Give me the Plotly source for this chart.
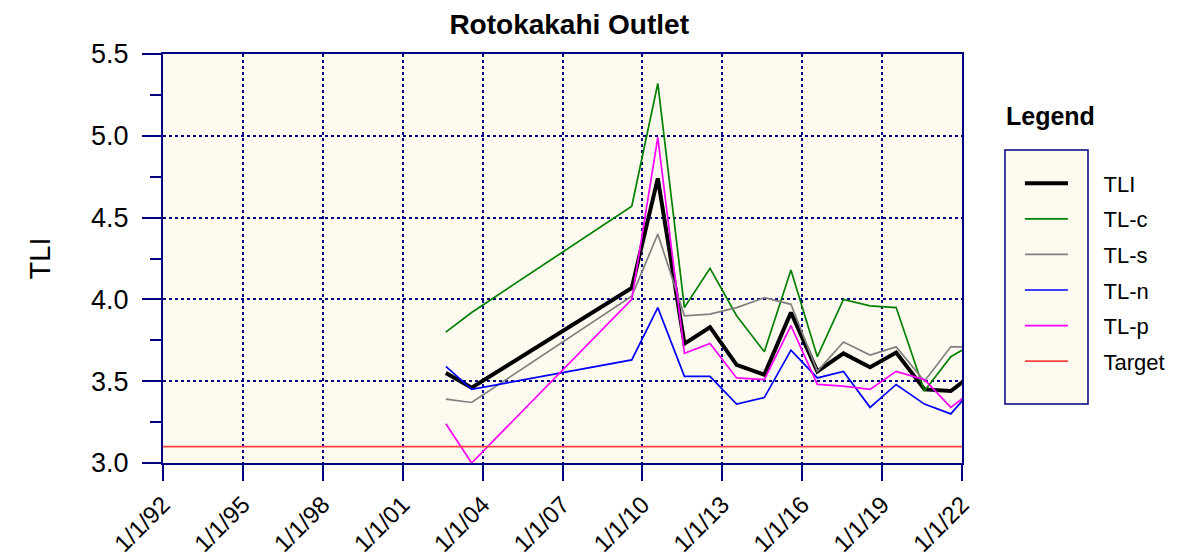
import plotly.graph_objects as go

# ---- data ----
dates = ["2002-08-15", "2003-08-04", "2009-08-08", "2010-07-31", "2011-07-31",
         "2012-07-16", "2013-07-16", "2014-07-31", "2015-07-31", "2016-07-27",
         "2017-07-20", "2018-07-20", "2019-07-13", "2020-08-04", "2021-07-31",
         "2022-07-20"]
tli = [3.55, 3.46, 4.07, 4.74, 3.73, 3.83, 3.60, 3.54, 3.92, 3.56, 3.67, 3.585, 3.675, 3.45, 3.44, 3.56]
tl_c = [3.80, 3.92, 4.57, 5.32, 3.95, 4.19, 3.90, 3.68, 4.18, 3.65, 4.00, 3.96, 3.95, 3.44, 3.65, 3.74]
tl_s = [3.39, 3.37, 4.02, 4.40, 3.90, 3.91, 3.95, 4.01, 3.97, 3.56, 3.74, 3.66, 3.71, 3.50, 3.71, 3.71]
tl_n = [3.59, 3.45, 3.63, 3.95, 3.53, 3.53, 3.36, 3.40, 3.69, 3.52, 3.56, 3.34, 3.48, 3.36, 3.30, 3.48]
tl_p = [3.24, 3.00, 4.00, 4.99, 3.67, 3.73, 3.52, 3.51, 3.84, 3.48, 3.47, 3.45, 3.56, 3.51, 3.34, 3.46]
target_dates = ["1992-01-01", "2022-01-01"]
target_value = 3.1

tick_dates = ["1992-01-01", "1995-01-01", "1998-01-01", "2001-01-01", "2004-01-01",
              "2007-01-01", "2010-01-01", "2013-01-01", "2016-01-01", "2019-01-01",
              "2022-01-01"]
tick_labels = ["1/1/92", "1/1/95", "1/1/98", "1/1/01", "1/1/04", "1/1/07",
               "1/1/10", "1/1/13", "1/1/16", "1/1/19", "1/1/22"]

NAVY = "#000080"
FONT = "Arial, Liberation Sans, sans-serif"
PAD = "\u00a0" * 5  # gap between legend swatch and label

series = [
    ("TLI", tli, "#000000", 4),
    ("TL-c", tl_c, "#008000", 1.7),
    ("TL-s", tl_s, "#808080", 1.7),
    ("TL-n", tl_n, "#0000FF", 1.7),
    ("TL-p", tl_p, "#FF00FF", 1.7),
]

fig = go.Figure()
for name, vals, color, w in series:
    fig.add_trace(go.Scatter(x=dates, y=vals, mode="lines", name=PAD + name,
                             legendgroup=name,
                             line=dict(color=color, width=w)))
fig.add_trace(go.Scatter(x=target_dates, y=[target_value] * len(target_dates),
                         mode="lines", name=PAD + "Target", legendgroup="Target",
                         line=dict(color="#FF4040", width=1.7)))

fig.update_layout(
    width=1174, height=549,
    margin=dict(l=155, r=220, t=46, b=94, autoexpand=False),
    paper_bgcolor="white",
    plot_bgcolor="#FFFAF0",
    font=dict(family=FONT, color="black"),
    title=dict(text="<b>Rotokakahi Outlet</b>", x=0.478, xanchor="center",
               y=0.970, yanchor="middle", font=dict(size=28, family=FONT),
               automargin=False),
    showlegend=True,
    legend=dict(x=1.0725, xanchor="left", y=0.735, yanchor="top",
                bgcolor="rgba(0,0,0,0)", borderwidth=0,
                font=dict(size=22, family=FONT),
                traceorder="grouped", tracegroupgap=4, itemwidth=43),
    shapes=[dict(type="rect", xref="paper", yref="paper",
                 x0=1.0538, x1=1.1577, y0=0.144, y1=0.765,
                 line=dict(color=NAVY, width=1.5), fillcolor="#FFFAF0",
                 layer="below")],
    annotations=[dict(text="<b>Legend</b>", xref="paper", yref="paper",
                      x=1.053, xanchor="left", y=0.848, yanchor="middle",
                      showarrow=False, font=dict(size=25, family=FONT))],
)

fig.update_xaxes(
    type="date", range=["1992-01-01", "2022-01-01"], automargin=False,
    tickmode="array", tickvals=tick_dates, ticktext=tick_labels,
    tickangle=-45, tickfont=dict(size=24, family=FONT),
    ticks="outside", ticklen=16, tickwidth=2, tickcolor=NAVY,
    showline=True, linecolor=NAVY, linewidth=2, mirror=True,
    showgrid=True, gridcolor=NAVY, griddash="dot", gridwidth=1.5,
    zeroline=False,
)
fig.update_yaxes(
    range=[3.0, 5.5], automargin=False,
    tickmode="array", tickvals=[3.0, 3.5, 4.0, 4.5, 5.0, 5.5],
    ticktext=["3.0", "3.5", "4.0", "4.5", "5.0", "5.5"],
    tickfont=dict(size=27, family=FONT),
    ticks="outside", ticklen=19, tickwidth=2, tickcolor=NAVY,
    ticklabelstandoff=8,
    minor=dict(tickvals=[3.25, 3.75, 4.25, 4.75, 5.25], ticks="outside",
               ticklen=11, tickwidth=2, tickcolor=NAVY, showgrid=False),
    showline=True, linecolor=NAVY, linewidth=2, mirror=True,
    showgrid=True, gridcolor=NAVY, griddash="dot", gridwidth=1.5,
    zeroline=False,
    title=dict(text="TLI", font=dict(size=29, family=FONT), standoff=32),
)

fig.write_html("out.html")
